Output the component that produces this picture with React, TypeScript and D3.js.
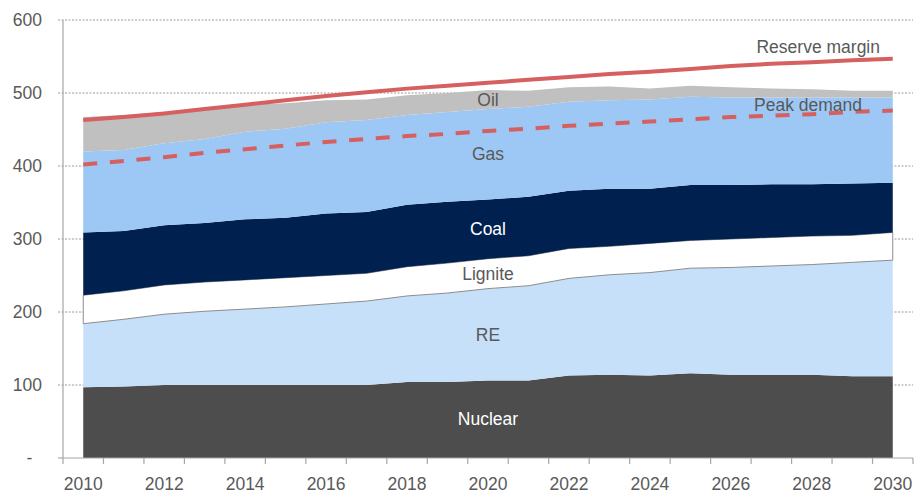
import React from "react";
import * as d3 from "d3";

const years = [2010, 2011, 2012, 2013, 2014, 2015, 2016, 2017, 2018, 2019, 2020, 2021, 2022, 2023, 2024, 2025, 2026, 2027, 2028, 2029, 2030];
const nuclear = [97, 98, 100, 100, 100, 100, 100, 100, 104, 104, 106, 106, 113, 114, 113, 116, 114, 114, 114, 112, 112];
const re = [87, 92, 97, 101, 104, 107, 111, 115, 118, 122, 126, 130, 133, 137, 141, 144, 147, 149, 151, 156, 159];
const lignite = [39, 39, 40, 40, 40, 40, 39, 38, 40, 41, 41, 41, 41, 39, 40, 38, 39, 39, 39, 37, 38];
const coal = [86, 82, 82, 81, 83, 82, 85, 84, 85, 84, 81, 81, 79, 79, 75, 76, 74, 73, 71, 71, 68];
const gas = [111, 111, 112, 115, 120, 122, 125, 126, 123, 123, 124, 123, 122, 121, 122, 121, 120, 119, 119, 118, 117];
const oil = [47, 48, 43, 41, 37, 35, 30, 28, 27, 26, 26, 22, 20, 19, 15, 15, 14, 12, 11, 9, 9];
const reserveMargin = [463, 467, 472, 478, 484, 490, 496, 501, 506, 510, 514, 518, 522, 526, 529, 533, 537, 540, 542, 545, 547];
const peakDemand = [402, 407, 412, 418, 423, 428, 433, 437, 441, 444, 448, 451, 455, 458, 461, 464, 467, 469, 471, 474, 476];

const seriesKeys = ["Nuclear", "RE", "Lignite", "Coal", "Gas", "Oil"];
const seriesValues = [nuclear, re, lignite, coal, gas, oil];
const yTicks = [0, 100, 200, 300, 400, 500, 600];
const yTickLabels = ["-  ", "100", "200", "300", "400", "500", "600"];
const labelYear = 2020;

const fills: Record<string, string> = {
  Nuclear: "#4d4d4d",
  RE: "#c6e0fa",
  Lignite: "#ffffff",
  Coal: "#00214f",
  Gas: "#9dc8f6",
  Oil: "#c0c0c0",
};
const labelColors: Record<string, string> = {
  Nuclear: "#ffffff",
  RE: "#595959",
  Lignite: "#595959",
  Coal: "#ffffff",
  Gas: "#595959",
  Oil: "#595959",
};

const W = 914;
const H = 493;
const FONT = "'Liberation Sans', Arial, sans-serif";
const FS = 17.5;

export default function App() {
  const x = d3.scaleBand<number>().domain(years).range([63, 913]).paddingInner(0).paddingOuter(0);
  const cx = (yr: number) => (x(yr) as number) + x.bandwidth() / 2;
  const y = d3.scaleLinear().domain([0, 600]).range([458, 20]);

  const table = years.map((yr, i) => {
    const row: Record<string, number> = { year: yr };
    seriesKeys.forEach((k, j) => (row[k] = seriesValues[j][i]));
    return row;
  });
  const stacked = d3.stack<Record<string, number>>().keys(seriesKeys)(table);
  const area = d3
    .area<d3.SeriesPoint<Record<string, number>>>()
    .x((d) => cx(d.data.year))
    .y0((d) => y(d[0]))
    .y1((d) => y(d[1]));
  const line = d3
    .line<number>()
    .x((_, i) => cx(years[i]))
    .y((d) => y(d));

  const li = years.indexOf(labelYear);
  const boundaries = years.map((yr) => x(yr) as number).concat([913]);

  return (
    <svg width={W} height={H} style={{ position: "absolute", left: 0, top: 0, background: "#fff" }} fontFamily={FONT}>
      {/* gridlines */}
      {yTicks.filter((t) => t > 0).map((t) => (
        <line key={t} x1={58} x2={913} y1={y(t)} y2={y(t)} stroke="#9a9a9a" strokeWidth={1} strokeDasharray="2,1.5" />
      ))}
      <line x1={58} x2={63} y1={y(0)} y2={y(0)} stroke="#9a9a9a" strokeWidth={1} />
      {/* areas */}
      {stacked.map((s) => (
        <path
          key={s.key}
          d={area(s) || ""}
          fill={fills[s.key]}
          stroke={s.key === "Lignite" ? "#8c8c8c" : "none"}
          strokeWidth={s.key === "Lignite" ? 1 : 0}
        />
      ))}
      {/* axes */}
      <line x1={63} x2={63} y1={y(600)} y2={y(0)} stroke="#a6a6a6" strokeWidth={1.2} />
      <line x1={63} x2={913} y1={y(0)} y2={y(0)} stroke="#a6a6a6" strokeWidth={1.2} />
      {boundaries.map((b, i) => (
        <line key={i} x1={b} x2={b} y1={y(0)} y2={y(0) + 6} stroke="#a6a6a6" strokeWidth={1.2} />
      ))}
      {yTicks.map((t, i) => (
        <text key={t} x={42} y={y(t)} dy="0.35em" textAnchor="end" fontSize={FS} fill="#595959" style={{ whiteSpace: "pre" }}>
          {yTickLabels[i]}
        </text>
      ))}
      {years.filter((yr) => yr % 2 === 0).map((yr) => (
        <text key={yr} x={cx(yr)} y={490} textAnchor="middle" fontSize={FS} fill="#595959">
          {yr}
        </text>
      ))}
      {/* lines */}
      <path d={line(reserveMargin) || ""} fill="none" stroke="#d65f5f" strokeWidth={4} />
      <path d={line(peakDemand) || ""} fill="none" stroke="#d65f5f" strokeWidth={4} strokeDasharray="14,12.7" />
      {/* series labels */}
      {stacked.map((s) => {
        const p = s[li];
        return (
          <text key={s.key} x={cx(labelYear)} y={y((p[0] + p[1]) / 2)} dy="0.35em" textAnchor="middle" fontSize={FS} fill={labelColors[s.key]}>
            {s.key}
          </text>
        );
      })}
      <text x={880} y={53} textAnchor="end" fontSize={FS} fill="#595959">Reserve margin</text>
      <text x={862} y={111} textAnchor="end" fontSize={FS} fill="#595959">Peak demand</text>
    </svg>
  );
}
